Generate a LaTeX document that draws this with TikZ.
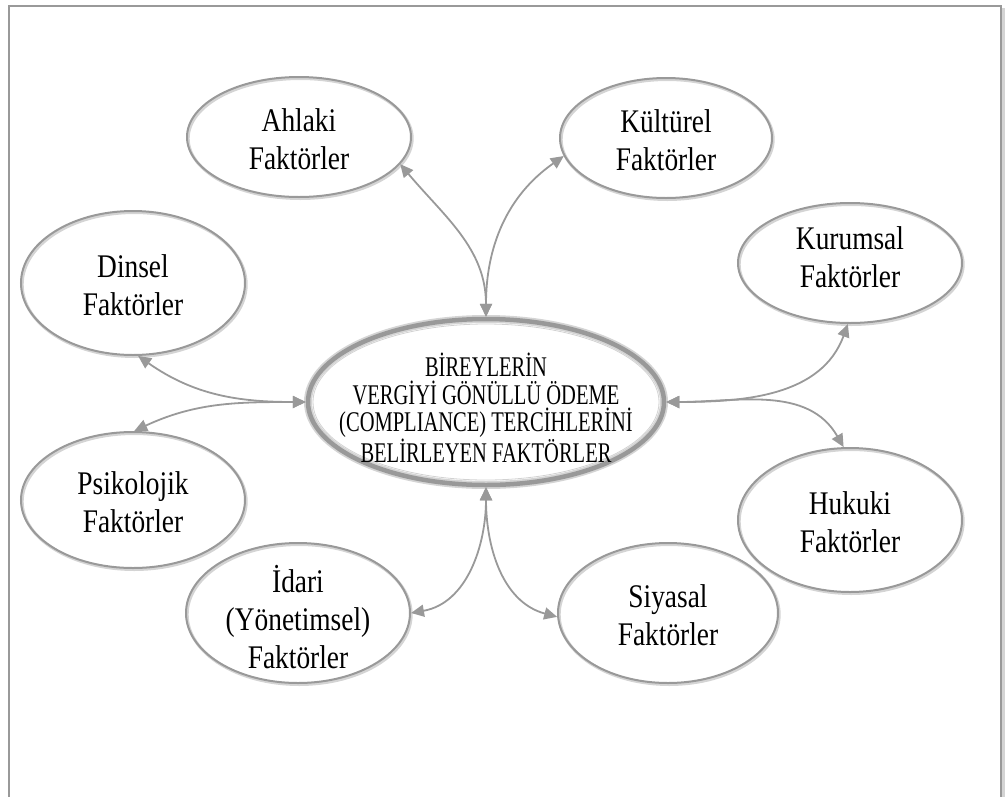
\documentclass[tikz,border=0pt]{standalone}
\usepackage{fontspec}
\setmainfont{Liberation Serif}
\newfontfamily\satfont[FakeStretch=0.83]{Liberation Serif}
\newfontfamily\cenfont[FakeStretch=0.72]{Liberation Serif}
\usetikzlibrary{shapes.geometric,arrows.meta}
\definecolor{lg}{HTML}{999999}
\definecolor{sh}{HTML}{D4D4D4}
\begin{document}
\begin{tikzpicture}[x=1pt,y=1pt,
  sat/.style 2 args={ellipse, draw=lg, line width=2pt, inner sep=0pt,
    minimum width=#1, minimum height=#2,
    preaction={draw=sh, line width=3pt, transform canvas={shift={(1.2pt,-1.5pt)}}}},
  cen/.style={ellipse, draw=lg, line width=4.5pt, inner sep=0pt,
    minimum width=356pt, minimum height=166pt,
    preaction={draw=sh, line width=8pt}},
  sattxt/.style={align=center, inner sep=0pt, font=\satfont\fontsize{33}{38}\selectfont},
  centxt/.style={align=center, inner sep=0pt, font=\cenfont\fontsize{28.5}{27.5}\selectfont},
  arr/.style={draw=lg, line width=1.8pt, {Triangle[length=13pt,width=12pt]}-{Triangle[length=13pt,width=12pt]}},
  frame/.style={draw=lg, line width=2pt}
]
\useasboundingbox (0,0) rectangle (1005,-796);
\fill[sh] (1002,-8) rectangle (1005,-800);
\draw[frame] (9,-800) -- (9,-6) -- (1001,-6) -- (1001,-800);

% central
\node[cen] (c) at (486,-402) {};
\draw[gray!35, line width=0.8pt] (c.center) ellipse [x radius=173, y radius=78];
\node[centxt] (ct) at (486,-408) {BİREYLERİN\\VERGİYİ GÖNÜLLÜ ÖDEME\\(COMPLIANCE) TERCİHLERİNİ\\BELİRLEYEN FAKTÖRLER};

% satellites
\node[sat={224pt}{120pt}] (ahl) at (299,-137) {};
\node[sattxt] (ahlt) at (299,-139) {Ahlaki\\Faktörler};
\node[sat={212pt}{120pt}] (kul) at (666,-138) {};
\node[sattxt] (kult) at (666,-140) {Kültürel\\Faktörler};
\node[sat={224pt}{144pt}] (din) at (133,-283) {};
\node[sattxt] (dint) at (133,-285) {Dinsel\\Faktörler};
\node[sat={224pt}{120pt}] (kur) at (850,-263) {};
\node[sattxt] (kurt) at (850,-257) {Kurumsal\\Faktörler};
\node[sat={224pt}{136pt}] (psi) at (133,-500) {};
\node[sattxt] (psit) at (133,-502) {Psikolojik\\Faktörler};
\node[sat={224pt}{144pt}] (huk) at (850,-520) {};
\node[sattxt] (hukt) at (850,-522) {Hukuki\\Faktörler};
\node[sat={224pt}{140pt}] (ida) at (298,-613) {};
\node[sattxt] (idat) at (298,-617) {İdari\\(Yönetimsel)\\Faktörler};
\node[sat={220pt}{140pt}] (siy) at (668,-613) {};
\node[sattxt] (siyt) at (668,-615) {Siyasal\\Faktörler};

% connectors
\draw[arr] (c.west) to[out=180,in=-35] (din.-86);
\draw[arr] (c.west) to[out=180,in=25] (psi.89);
\draw[arr] (c.north) to[out=90,in=-50] (ahl.-15);
\draw[arr] (c.north) to[out=90,in=-145] (kul.190);
\draw[arr] (c.east) to[out=0,in=-110] (kur.-92);
\draw[arr] (c.east) to[out=0,in=120] (huk.95);
\draw[arr] (c.south) to[out=-90,in=10] (ida.0);
\draw[arr] (c.south) to[out=-90,in=165] (siy.182);
\end{tikzpicture}
\end{document}
